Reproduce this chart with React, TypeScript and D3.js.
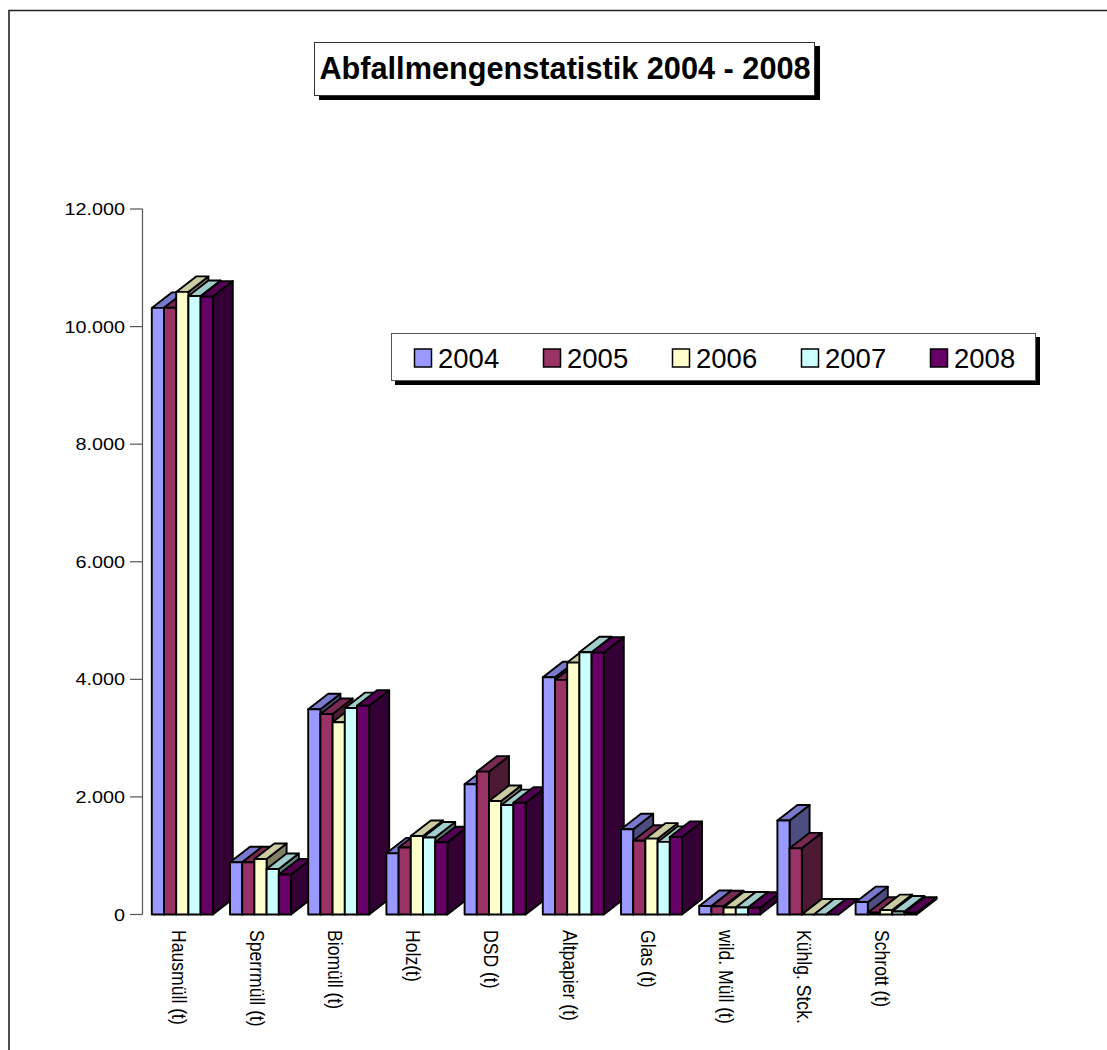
import React from "react";
import * as d3 from "d3";

const categories = ["Hausmüll (t)", "Sperrmüll (t)", "Biomüll (t)", "Holz(t)", "DSD (t)", "Altpapier (t)", "Glas (t)", "wild. Müll (t)", "Kühlg. Stck.", "Schrott (t)"];
const years = ["2004", "2005", "2006", "2007", "2008"];
const v2004 = [10318, 888, 3490, 1040, 2215, 4035, 1450, 145, 1600, 210];
const v2005 = [10320, 888, 3410, 1140, 2430, 3990, 1255, 140, 1125, 30];
const v2006 = [10590, 945, 3270, 1335, 1930, 4285, 1290, 120, 0, 75];
const v2007 = [10520, 775, 3510, 1310, 1860, 4460, 1235, 120, 0, 50];
const v2008 = [10510, 680, 3550, 1230, 1900, 4455, 1320, 115, 0, 30];
const seriesValues = [v2004, v2005, v2006, v2007, v2008];
const yTicks = [0, 2000, 4000, 6000, 8000, 10000, 12000];
const frontColors = ["#9999FF", "#993366", "#FFFFCC", "#CCFFFF", "#660066"];
const topColors = ["#7A7ACC", "#7A2952", "#CCCCA3", "#A3CCCC", "#520052"];
const sideColors = ["#4D4D80", "#4D1A33", "#808066", "#668080", "#330033"];

const FONT = "'Liberation Sans', Arial, sans-serif";
const DX = 20;
const DY = 15.5;

const y = d3.scaleLinear().domain([0, 12000]).range([914.5, 209]);
const x0 = d3.scaleBand<string>().domain(categories).range([141.5, 923.5]).paddingInner(0).paddingOuter(0);
const groupWidth = x0.bandwidth();
const x1 = d3.scaleBand<string>().domain(years).range([10.3, 71.3]);
const fmt = d3.formatLocale({ decimal: ",", thousands: ".", grouping: [3], currency: ["", ""] }).format(",d");

function Bar({ x, w, top, base, i }: { x: number; w: number; top: number; base: number; i: number }) {
  const stroke = { stroke: "#000", strokeWidth: 1.9, strokeLinejoin: "round" as const };
  const side = d3.path();
  side.moveTo(x + w, top);
  side.lineTo(x + w + DX, top - DY);
  side.lineTo(x + w + DX, base - DY);
  side.lineTo(x + w, base);
  side.closePath();
  const cap = d3.path();
  cap.moveTo(x, top);
  cap.lineTo(x + DX, top - DY);
  cap.lineTo(x + w + DX, top - DY);
  cap.lineTo(x + w, top);
  cap.closePath();
  return (
    <g>
      <path d={side.toString()} fill={sideColors[i]} {...stroke} />
      <path d={cap.toString()} fill={topColors[i]} {...stroke} />
      <rect x={x} y={top} width={w} height={base - top} fill={frontColors[i]} {...stroke} />
    </g>
  );
}

export default function App() {
  const legendX = d3.scaleBand<string>().domain(years).range([411, 1056]);
  return (
    <svg width={1107} height={1050} style={{ position: "absolute", left: 0, top: 0, display: "block", background: "#fff" }} fontFamily={FONT}>
      <path d="M9,1050V10.5H1107" fill="none" stroke="#222" strokeWidth={1.6} />

      <rect x={319} y={46} width={501} height={54} fill="#000" />
      <rect x={314.5} y={42.5} width={500} height={53} fill="#fff" stroke="#333" strokeWidth={1} />
      <text x={565} y={79} textAnchor="middle" fontSize={30.7} fontWeight="bold" fill="#000">Abfallmengenstatistik 2004 - 2008</text>

      <line x1={142.5} x2={142.5} y1={y(12000)} y2={y(0)} stroke="#555" strokeWidth={1.2} />
      {yTicks.map((t) => (
        <g key={t}>
          <line x1={130} x2={142.5} y1={y(t)} y2={y(t)} stroke="#555" strokeWidth={1.2} />
          <text transform={`translate(125,${y(t) + 6}) scale(1.15,1)`} textAnchor="end" fontSize={17.2} fill="#000">{fmt(t)}</text>
        </g>
      ))}

      {categories.map((c, ci) => (
        <g key={c}>
          {years.map((yr, i) => (
            <Bar key={yr} x={(x0(c) as number) + (x1(yr) as number)} w={x1.bandwidth()} top={y(seriesValues[i][ci])} base={y(0)} i={i} />
          ))}
        </g>
      ))}

      {categories.map((c) => {
        const cx = (x0(c) as number) + groupWidth / 2 - 9;
        return (
          <text key={c} transform={`translate(${cx},930) scale(1.11,1) rotate(90)`} fontSize={17.6} fill="#000">{c}</text>
        );
      })}

      <rect x={395} y={337} width={645} height={48} fill="#000" />
      <rect x={391.5} y={333.5} width={644} height={47} fill="#fff" stroke="#555" strokeWidth={1} />
      {years.map((yr, i) => {
        const lx = legendX(yr) as number;
        return (
          <g key={yr}>
            <rect x={lx + 3.5} y={349} width={17} height={18} fill={frontColors[i]} stroke="#000" strokeWidth={1.5} />
            <text x={lx + 27} y={367.5} fontSize={27.5} fill="#000">{yr}</text>
          </g>
        );
      })}
    </svg>
  );
}
